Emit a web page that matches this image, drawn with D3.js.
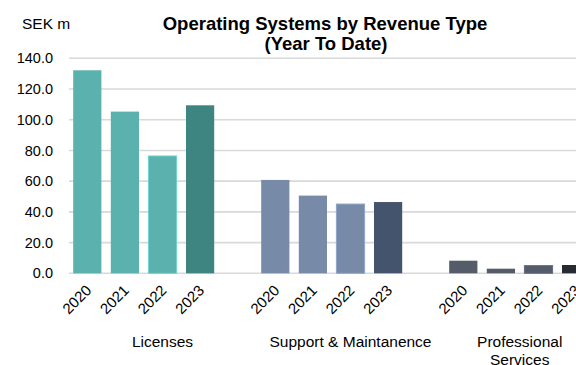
<!DOCTYPE html>
<html>
<head>
<meta charset="utf-8">
<script src="https://cdn.jsdelivr.net/npm/d3@7"></script>
<style>
  body { margin: 0; background: #fff; }
  svg { display: block; font-family: Arial, "Liberation Sans", sans-serif; }
</style>
</head>
<body>
<div id="chart"></div>
<script>
// Data
const groups = ["Licenses", "Support & Maintanence", "Professional Services"];
const years = ["2020", "2021", "2022", "2023"];
const licenses = [132.2, 105.3, 76.4, 109.4];
const supportMaint = [60.8, 50.6, 45.1, 46.4];
const profServices = [8.2, 3.0, 5.0, 5.4];
const yTicks = [0, 20, 40, 60, 80, 100, 120, 140];

const seriesValues = [licenses, supportMaint, profServices];
const lightColors = ["#5ab1ad", "#778ba9", "#545b69"];
const darkColors = ["#3e8581", "#44546d", "#262a33"];

// Chart config
const width = 576, height = 365;
const margin = { top: 58, left: 69, bottom: 92 };
const plotBottom = 273.3;

const svg = d3.select("#chart")
  .append("svg")
  .attr("width", width)
  .attr("height", height);

// slots: 4 years per group + one blank slot between groups
const slots = [];
groups.forEach((g, gi) => {
  years.forEach(y => slots.push(g + "|" + y));
  if (gi < groups.length - 1) slots.push(g + "|gap");
});

const bars = [];
groups.forEach((g, gi) => {
  years.forEach((y, yi) => {
    bars.push({ group: g, gi: gi, year: y, key: g + "|" + y, value: seriesValues[gi][yi] });
  });
});

const step = 37.6;
const xScale = d3.scaleBand()
  .domain(slots)
  .range([margin.left - 0.5, margin.left - 0.5 + step * slots.length])
  .paddingInner(0.25)
  .paddingOuter(0.125);

const yScale = d3.scaleLinear()
  .domain([0, 140])
  .range([plotBottom, margin.top + 0.3]);

// Gridlines
svg.append("g")
  .attr("class", "grid")
  .selectAll("line")
  .data(yTicks)
  .enter()
  .append("line")
  .attr("x1", margin.left)
  .attr("x2", width)
  .attr("y1", d => yScale(d))
  .attr("y2", d => yScale(d))
  .attr("stroke", "#d9d9d9")
  .attr("stroke-width", 1.6);

// Y axis labels
const yAxis = svg.append("g")
  .attr("transform", `translate(${margin.left},0)`)
  .call(d3.axisLeft(yScale).tickValues(yTicks).tickFormat(d3.format(".1f")).tickSize(0).tickPadding(16));
yAxis.select(".domain").remove();
yAxis.selectAll("text")
  .attr("fill", "#000")
  .style("font-size", "14.5px")
  .style("font-family", "Arial, 'Liberation Sans', sans-serif");

// Bars
svg.append("g")
  .selectAll("rect")
  .data(bars)
  .enter()
  .append("rect")
  .attr("x", d => xScale(d.key))
  .attr("y", d => yScale(d.value))
  .attr("width", xScale.bandwidth())
  .attr("height", d => plotBottom - yScale(d.value))
  .attr("fill", d => d.year === "2023" ? darkColors[d.gi] : lightColors[d.gi])
  .attr("stroke", d => d.year === "2022" ? d3.color(lightColors[d.gi]).brighter(0.5) : "none")
  .attr("stroke-width", 1);

// X axis (years)
const xAxis = svg.append("g")
  .attr("transform", `translate(0,${plotBottom})`)
  .call(d3.axisBottom(xScale).tickValues(bars.map(d => d.key)).tickFormat(d => d.split("|")[1]).tickSize(0));
xAxis.select(".domain").remove();
xAxis.selectAll("text")
  .attr("x", 0)
  .attr("y", 0)
  .attr("dy", 0)
  .attr("text-anchor", "end")
  .attr("transform", "translate(5,18) rotate(-45)")
  .attr("fill", "#000")
  .style("font-size", "15px")
  .style("font-family", "Arial, 'Liberation Sans', sans-serif");

// Group labels
groups.forEach((g, gi) => {
  const keys = slots.filter(s => s.startsWith(g + "|"));
  const x0 = xScale(keys[0]) - xScale.step() * xScale.paddingInner() / 2;
  const x1 = xScale(keys[keys.length - 1]) + xScale.bandwidth() + xScale.step() * xScale.paddingInner() / 2;
  const cx = (x0 + x1) / 2;
  const lines = g === "Professional Services" ? ["Professional", "Services"] : [g];
  const t = svg.append("text")
    .attr("x", cx)
    .attr("y", 346.5)
    .attr("text-anchor", "middle")
    .style("font-size", "15.5px")
    .attr("fill", "#000");
  lines.forEach((l, li) => {
    t.append("tspan").attr("x", cx).attr("dy", li === 0 ? 0 : 18.5).text(l);
  });
});

// Unit label
svg.append("text")
  .attr("x", 22)
  .attr("y", 28.5)
  .style("font-size", "15.5px")
  .text("SEK m");

// Title
svg.append("text")
  .attr("x", 325)
  .attr("y", 30)
  .attr("text-anchor", "middle")
  .style("font-size", "18.5px")
  .style("font-weight", "bold")
  .text("Operating Systems by Revenue Type");

svg.append("text")
  .attr("x", 326)
  .attr("y", 50)
  .attr("text-anchor", "middle")
  .style("font-size", "18.5px")
  .style("font-weight", "bold")
  .text("(Year To Date)");
</script>
</body>
</html>
